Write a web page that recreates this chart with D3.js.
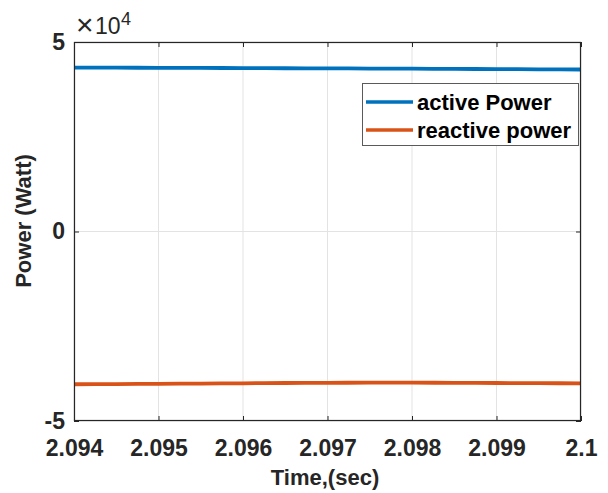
<!DOCTYPE html>
<html>
<head>
<meta charset="utf-8">
<script src="https://cdn.jsdelivr.net/npm/d3@7"></script>
<style>
  html, body { margin: 0; padding: 0; background: #fff; }
  svg { display: block; font-family: "Liberation Sans", Arial, sans-serif; }
</style>
</head>
<body>
<svg id="chart" width="608" height="493"></svg>
<script>
// ---- data ----
const time = [2.094, 2.0945, 2.095, 2.0955, 2.096, 2.0965, 2.097, 2.0975, 2.098, 2.0985, 2.099, 2.0995, 2.1];
const activePower = [43250, 43220, 43180, 43150, 43120, 43080, 43040, 43000, 42950, 42900, 42850, 42800, 42750];
const reactivePower = [-40300, -40250, -40200, -40120, -40050, -39980, -39930, -39900, -39900, -39930, -39970, -40020, -40050];
const xTicks = [2.094, 2.095, 2.096, 2.097, 2.098, 2.099, 2.1];
const xTickLabels = ["2.094", "2.095", "2.096", "2.097", "2.098", "2.099", "2.1"];
const yTicks = [-50000, 0, 50000];
const yTickLabels = ["-5", "0", "5"];
const seriesNames = ["active Power", "reactive power"];
const seriesColors = ["#0072BD", "#D95319"];

// ---- layout ----
const L = 74, R = 581, T = 42, B = 421;
const svg = d3.select("#chart");
const x = d3.scaleLinear().domain([2.094, 2.1]).range([L, R]);
const y = d3.scaleLinear().domain([-50000, 50000]).range([B, T]);

// grid
const grid = svg.append("g");
grid.selectAll(".gx").data(xTicks).join("line")
  .attr("x1", d => x(d)).attr("x2", d => x(d)).attr("y1", T).attr("y2", B)
  .attr("stroke", "#e3e3e3").attr("stroke-width", 1);
grid.selectAll(".gy").data(yTicks).join("line")
  .attr("x1", L).attr("x2", R).attr("y1", d => y(d)).attr("y2", d => y(d))
  .attr("stroke", "#e3e3e3").attr("stroke-width", 1);

// lines
const series = [activePower, reactivePower];
const line = d3.line().x((d, i) => x(time[i])).y(d => y(d)).curve(d3.curveMonotoneX);
series.forEach((s, k) => {
  svg.append("path").datum(s).attr("d", line)
    .attr("fill", "none").attr("stroke", seriesColors[k]).attr("stroke-width", 3.8);
});

// axes box
const ax = svg.append("g");
ax.append("rect").attr("x", L + 0.5).attr("y", T + 0.5).attr("width", R - L - 1).attr("height", B - T - 1)
  .attr("fill", "none").attr("stroke", "#262626").attr("stroke-width", 1.2);

// x ticks (inward, bottom and top)
const xAxis = d3.axisBottom(x).tickValues(xTicks).tickFormat((d, i) => xTickLabels[i]).tickSizeInner(-5).tickSizeOuter(0).tickPadding(17);
const gx = svg.append("g").attr("transform", `translate(0,${B})`).call(xAxis);
gx.select(".domain").remove();
gx.selectAll(".tick line").attr("stroke", "#262626");
gx.selectAll(".tick text").attr("font-size", "23px").attr("font-weight", "bold").attr("fill", "#262626")
  .attr("dy", null).attr("y", 35);
const gxTop = svg.append("g").attr("transform", `translate(0,${T})`)
  .call(d3.axisTop(x).tickValues(xTicks).tickFormat("").tickSizeInner(-5).tickSizeOuter(0));
gxTop.select(".domain").remove();
gxTop.selectAll(".tick line").attr("stroke", "#262626");

// y ticks
const yAxis = d3.axisLeft(y).tickValues(yTicks).tickFormat((d, i) => yTickLabels[i]).tickSizeInner(-5).tickSizeOuter(0).tickPadding(9);
const gy = svg.append("g").attr("transform", `translate(${L},0)`).call(yAxis);
gy.select(".domain").remove();
gy.selectAll(".tick line").attr("stroke", "#262626");
gy.selectAll(".tick text").attr("font-size", "23px").attr("font-weight", "bold").attr("fill", "#262626");
const gyR = svg.append("g").attr("transform", `translate(${R},0)`)
  .call(d3.axisRight(y).tickValues(yTicks).tickFormat("").tickSizeInner(-5).tickSizeOuter(0));
gyR.select(".domain").remove();
gyR.selectAll(".tick line").attr("stroke", "#262626");

// exponent
svg.append("text").attr("x", 76).attr("y", 35).attr("fill", "#262626").attr("font-size", "30px").text("\u00D7");
svg.append("text").attr("x", 95).attr("y", 34).attr("fill", "#262626").attr("font-size", "23px").text("10");
svg.append("text").attr("x", 121).attr("y", 25).attr("fill", "#262626").attr("font-size", "18px").text("4");

// axis labels
svg.append("text").attr("x", 325).attr("y", 485).attr("text-anchor", "middle")
  .attr("font-size", "22px").attr("font-weight", "bold").attr("fill", "#262626").text("Time,(sec)");
svg.append("text").attr("transform", "translate(31,221) rotate(-90)").attr("text-anchor", "middle")
  .attr("font-size", "22px").attr("font-weight", "bold").attr("fill", "#262626").text("Power (Watt)");

// legend
const lg = svg.append("g");
lg.append("rect").attr("x", 362.5).attr("y", 83.5).attr("width", 216).attr("height", 62)
  .attr("fill", "#fff").attr("stroke", "#5a5a5a").attr("stroke-width", 1);
seriesNames.forEach((n, k) => {
  const yy = 102 + k * 28;
  lg.append("line").attr("x1", 366).attr("x2", 413).attr("y1", yy).attr("y2", yy)
    .attr("stroke", seriesColors[k]).attr("stroke-width", 3.6);
  lg.append("text").attr("x", 417).attr("y", yy).attr("dominant-baseline", "central")
    .attr("font-size", "22px").attr("font-weight", "bold").attr("fill", "#000").text(n);
});
</script>
</body>
</html>
